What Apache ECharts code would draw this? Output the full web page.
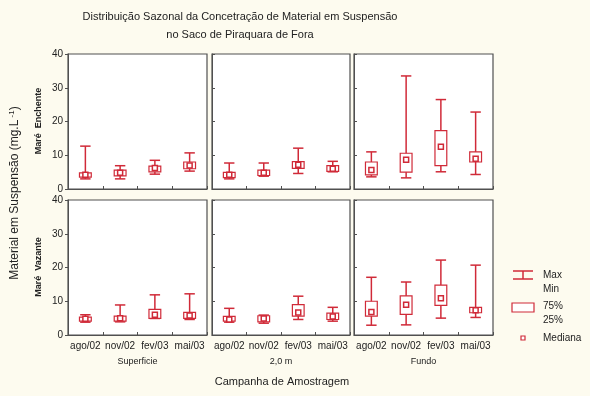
<!DOCTYPE html>
<html><head><meta charset="utf-8">
<script src="https://cdn.jsdelivr.net/npm/echarts@6/dist/echarts.min.js"></script>
<style>html,body{margin:0;padding:0;background:#fdfbef}#c{width:590px;height:396px}</style>
</head><body><div id="c"></div>
<script>
const categories = ['ago/02','nov/02','fev/03','mai/03'];
const yTicks = [0,10,20,30,40];
const groupLabels = ['Superficie','2,0 m','Fundo'];
const rowLabels = ['Maré  Enchente','Maré  Vazante'];
// [min, q1(25%), mediana, q3(75%), max]
const supEnchente   = [[3.0,3.5,4.2,4.8,12.7],[3.0,3.9,4.8,5.6,6.9],[4.4,5.1,6.2,6.8,8.5],[5.3,6.0,7.0,8.0,10.7]];
const m2Enchente    = [[3.0,3.4,4.2,4.9,7.7],[3.8,4.0,4.8,5.6,7.7],[4.6,6.1,7.2,8.1,12.1],[5.1,5.2,6.0,6.9,8.2]];
const fundoEnchente = [[3.6,4.2,5.6,8.0,11.0],[3.3,5.0,8.7,10.6,33.5],[5.1,6.9,12.5,17.3,26.5],[4.3,8.0,9.0,11.0,22.8]];
const supVazante    = [[3.8,4.1,4.8,5.3,6.0],[3.9,4.1,5.0,5.6,8.9],[4.9,4.9,6.0,7.6,11.9],[4.6,4.9,5.8,6.7,12.2]];
const m2Vazante     = [[3.8,4.1,4.6,5.5,7.9],[3.5,3.9,4.9,5.7,5.9],[4.6,5.6,6.7,9.0,11.5],[4.1,4.6,5.5,6.5,8.2]];
const fundoVazante  = [[2.9,5.6,6.8,10.0,17.1],[3.0,6.1,9.0,11.6,15.7],[5.0,8.8,10.9,14.8,22.2],[5.2,6.6,7.3,8.2,20.7]];

const panels = [supEnchente, m2Enchente, fundoEnchente, supVazante, m2Vazante, fundoVazante];
const RED = '#d02a38';
const FONT = '"Liberation Sans", Arial, sans-serif';
const lefts = [68, 212, 354], widths = [139, 138, 139];
const tops = [54, 200], H = 135;

const grids = [], xAxes = [], yAxes = [], series = [];
panels.forEach((p, i) => {
  const row = Math.floor(i / 3), col = i % 3;
  grids.push({left: lefts[col], top: tops[row], width: widths[col], height: H, show: true,
    backgroundColor: '#ffffff', borderColor: '#505050', borderWidth: 1.2});
  xAxes.push({type: 'category', gridIndex: i, data: categories,
    axisLine: {show: true, lineStyle: {color: '#505050'}},
    axisTick: {show: true, inside: true, length: 3, lineStyle: {color: '#505050'}},
    axisLabel: {show: row === 1, fontSize: 10, color: '#222', margin: 6, fontFamily: FONT, interval: 0}});
  yAxes.push({type: 'value', gridIndex: i, min: 0, max: 40, interval: 10,
    axisLine: {show: true, lineStyle: {color: '#505050'}},
    axisTick: {show: true, inside: col !== 0, length: 3, lineStyle: {color: '#505050'}},
    splitLine: {show: false},
    axisLabel: {show: col === 0, fontSize: 10, color: '#222', margin: 5, fontFamily: FONT}});
  series.push({
    type: 'custom', xAxisIndex: i, yAxisIndex: i,
    data: p.map((d, k) => [k].concat(d)),
    encode: {x: 0, y: [1, 2, 3, 4, 5]},
    renderItem: function (params, api) {
      const k = api.value(0);
      const pMin = api.coord([k, api.value(1)]);
      const pQ1 = api.coord([k, api.value(2)]);
      const pMed = api.coord([k, api.value(3)]);
      const pQ3 = api.coord([k, api.value(4)]);
      const pMax = api.coord([k, api.value(5)]);
      const bw = api.size([1, 0])[0] * 0.34;
      const cw = api.size([1, 0])[0] * 0.3;
      const x = pMed[0];
      const ln = {stroke: RED, lineWidth: 1.5};
      return {type: 'group', children: [
        {type: 'line', shape: {x1: x, y1: pMax[1], x2: x, y2: pMin[1]}, style: ln},
        {type: 'line', shape: {x1: x - cw / 2, y1: pMax[1], x2: x + cw / 2, y2: pMax[1]}, style: ln},
        {type: 'line', shape: {x1: x - cw / 2, y1: pMin[1], x2: x + cw / 2, y2: pMin[1]}, style: ln},
        {type: 'rect', shape: {x: x - bw / 2, y: pQ3[1], width: bw, height: Math.max(pQ1[1] - pQ3[1], 1)},
          style: {fill: '#fff', stroke: RED, lineWidth: 1.2}},
        {type: 'rect', shape: {x: x - 2.5, y: pMed[1] - 2.5, width: 5, height: 5},
          style: {fill: '#fff', stroke: RED, lineWidth: 1.5}}
      ]};
    }
  });
});

const graphics = [
  {type: 'text', style: {text: 'Distribuição Sazonal da Concetração de Material em Suspensão', font: '11px ' + FONT, fill: '#222', textAlign: 'center'}, position: [240, 11]},
  {type: 'text', style: {text: 'no Saco de Piraquara de Fora', font: '11px ' + FONT, fill: '#222', textAlign: 'center'}, position: [240, 29]},
  {type: 'text', style: {text: 'Campanha de Amostragem', font: '11px ' + FONT, fill: '#222', textAlign: 'center'}, position: [282, 376]},
  {type: 'text', rotation: Math.PI / 2, position: [8, 193],
    style: {rich: {n: {font: '12px ' + FONT, fill: '#222'}, s: {font: '8px ' + FONT, fill: '#222', verticalAlign: 'top', padding: [0,0,6,0]}},
      text: '{n|Material em Suspensão (mg.L}{s| -1}{n|)}', textAlign: 'center', textVerticalAlign: 'top'}}
];
rowLabels.forEach((t, r) => {
  graphics.push({type: 'text', rotation: Math.PI / 2, position: [34, tops[r] + 67],
    style: {text: t, font: 'bold 9px ' + FONT, fill: '#222', textAlign: 'center', textVerticalAlign: 'top'}});
});
groupLabels.forEach((t, c) => {
  graphics.push({type: 'text', position: [lefts[c] + widths[c] / 2, 357],
    style: {text: t, font: '9px ' + FONT, fill: '#222', textAlign: 'center'}});
});
// legend
graphics.push(
  {type: 'line', shape: {x1: 513, y1: 271, x2: 533, y2: 271}, style: {stroke: RED, lineWidth: 1.5}},
  {type: 'line', shape: {x1: 513, y1: 279, x2: 533, y2: 279}, style: {stroke: RED, lineWidth: 1.5}},
  {type: 'line', shape: {x1: 523, y1: 271, x2: 523, y2: 279}, style: {stroke: RED, lineWidth: 1.5}},
  {type: 'text', position: [543, 270], style: {text: 'Max', font: '10px ' + FONT, fill: '#222'}},
  {type: 'text', position: [543, 284], style: {text: 'Min', font: '10px ' + FONT, fill: '#222'}},
  {type: 'rect', shape: {x: 512, y: 303, width: 22, height: 9}, style: {fill: '#fff', stroke: RED, lineWidth: 1.2}},
  {type: 'text', position: [543, 301], style: {text: '75%', font: '10px ' + FONT, fill: '#222'}},
  {type: 'text', position: [543, 315], style: {text: '25%', font: '10px ' + FONT, fill: '#222'}},
  {type: 'rect', shape: {x: 521, y: 336, width: 4, height: 4}, style: {fill: '#fff', stroke: RED, lineWidth: 1.2}},
  {type: 'text', position: [543, 333], style: {text: 'Mediana', font: '10px ' + FONT, fill: '#222'}}
);

const chart = echarts.init(document.getElementById('c'), null, {renderer: 'canvas'});
chart.setOption({
  backgroundColor: '#fdfbef',
  animation: false,
  grid: grids, xAxis: xAxes, yAxis: yAxes, series: series,
  graphic: graphics
});
</script></body></html>
